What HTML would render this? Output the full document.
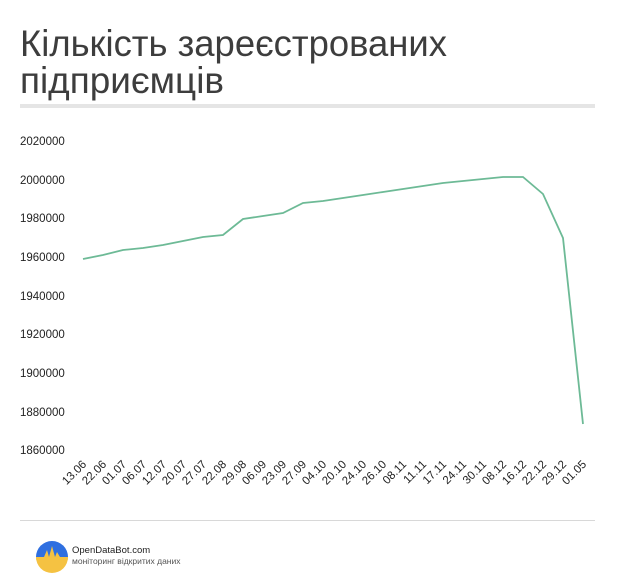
<!DOCTYPE html>
<html><head><meta charset="utf-8"><style>
body{margin:0;background:#fff;font-family:"Liberation Sans",sans-serif;}
</style></head><body>
<svg width="620" height="588" xmlns="http://www.w3.org/2000/svg" style="display:block">
<text x="20" y="56" font-size="37" fill="#3d3d3d" textLength="427" lengthAdjust="spacingAndGlyphs" font-family="Liberation Sans, sans-serif">Кількість зареєстрованих</text>
<text x="20" y="93" font-size="37" fill="#3d3d3d" textLength="204" lengthAdjust="spacingAndGlyphs" font-family="Liberation Sans, sans-serif">підприємців</text>
<rect x="20" y="104" width="575" height="4" fill="#e5e5e5"/>
<g font-size="11.5" fill="#222" font-family="Liberation Sans, sans-serif">
<text x="20" y="145">2020000</text>
<text x="20" y="184">2000000</text>
<text x="20" y="222">1980000</text>
<text x="20" y="261">1960000</text>
<text x="20" y="300">1940000</text>
<text x="20" y="338">1920000</text>
<text x="20" y="377">1900000</text>
<text x="20" y="416">1880000</text>
<text x="20" y="454">1860000</text>
</g>
<polyline fill="none" stroke="#6dba96" stroke-width="1.8" points="83,259 103,255 123,250 143,248 163,245 183,241 203,237 223,235 243,219 263,216 283,213 303,203 323,201 343,198 363,195 383,192 403,189 423,186 443,183 463,181 483,179 503,177 523,177 543,194 563,238 583,424"/>
<g font-size="11.5" fill="#222" font-family="Liberation Sans, sans-serif" text-anchor="end">
<text transform="translate(87,465) rotate(-45)">13.06</text>
<text transform="translate(107,465) rotate(-45)">22.06</text>
<text transform="translate(127,465) rotate(-45)">01.07</text>
<text transform="translate(147,465) rotate(-45)">06.07</text>
<text transform="translate(167,465) rotate(-45)">12.07</text>
<text transform="translate(187,465) rotate(-45)">20.07</text>
<text transform="translate(207,465) rotate(-45)">27.07</text>
<text transform="translate(227,465) rotate(-45)">22.08</text>
<text transform="translate(247,465) rotate(-45)">29.08</text>
<text transform="translate(267,465) rotate(-45)">06.09</text>
<text transform="translate(287,465) rotate(-45)">23.09</text>
<text transform="translate(307,465) rotate(-45)">27.09</text>
<text transform="translate(327,465) rotate(-45)">04.10</text>
<text transform="translate(347,465) rotate(-45)">20.10</text>
<text transform="translate(367,465) rotate(-45)">24.10</text>
<text transform="translate(387,465) rotate(-45)">26.10</text>
<text transform="translate(407,465) rotate(-45)">08.11</text>
<text transform="translate(427,465) rotate(-45)">11.11</text>
<text transform="translate(447,465) rotate(-45)">17.11</text>
<text transform="translate(467,465) rotate(-45)">24.11</text>
<text transform="translate(487,465) rotate(-45)">30.11</text>
<text transform="translate(507,465) rotate(-45)">08.12</text>
<text transform="translate(527,465) rotate(-45)">16.12</text>
<text transform="translate(547,465) rotate(-45)">22.12</text>
<text transform="translate(567,465) rotate(-45)">29.12</text>
<text transform="translate(587,465) rotate(-45)">01.05</text>
</g>
<rect x="20" y="520" width="575" height="1" fill="#d8d8d8"/>
<clipPath id="c"><circle cx="52" cy="557" r="16"/></clipPath>
<g clip-path="url(#c)">
<rect x="36" y="541" width="32" height="16" fill="#2f6fe0"/>
<rect x="36" y="557" width="32" height="16" fill="#f5c242"/>
<path d="M36,557 L44,557 L47,550 L49,557 L52,546 L55,557 L57,552 L60,557 L68,557 L68,560 L36,560Z" fill="#f5c242"/>
</g>
<text x="72" y="553" font-size="9.5" fill="#222">OpenDataBot.com</text>
<text x="72" y="564" font-size="8.5" fill="#555">моніторинг відкритих даних</text>
</svg>
</body></html>
